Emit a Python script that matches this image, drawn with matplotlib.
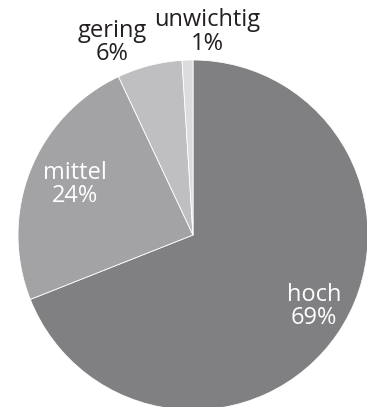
import matplotlib
matplotlib.use("Agg")
from matplotlib import pyplot as plt

categories = ["hoch", "mittel", "gering", "unwichtig"]
shares = [69, 24, 6, 1]
colors = ["#808083", "#a3a3a5", "#bfbfc1", "#dcdcde"]

# label placement (data units, pie radius = 1) and text colour
label_pos = [(0.69, -0.41), (-0.675, 0.29), (-0.46, 1.10), (0.08, 1.16)]
label_color = ["white", "white", "#231f20", "#231f20"]

plt.rcParams["font.family"] = ["Open Sans", "DejaVu Sans"]

fig = plt.figure(figsize=(3.67, 4.07), dpi=100)
ax = fig.add_axes([18 / 367, -3 / 407, 350 / 367, 350 / 407])

ax.pie(shares, colors=colors, startangle=90, counterclock=False,
       wedgeprops=dict(edgecolor="white", linewidth=0.6))

for name, val, (x, y), c in zip(categories, shares, label_pos, label_color):
    ax.text(x, y, f"{name}\n{val}%", ha="center", va="center",
            fontsize=17, color=c, linespacing=0.95)

ax.set_xlim(-1, 1)
ax.set_ylim(-1, 1)
ax.set_aspect("equal")
ax.axis("off")
ax.set_clip_on(False)

fig.savefig("out.png", dpi=100)
